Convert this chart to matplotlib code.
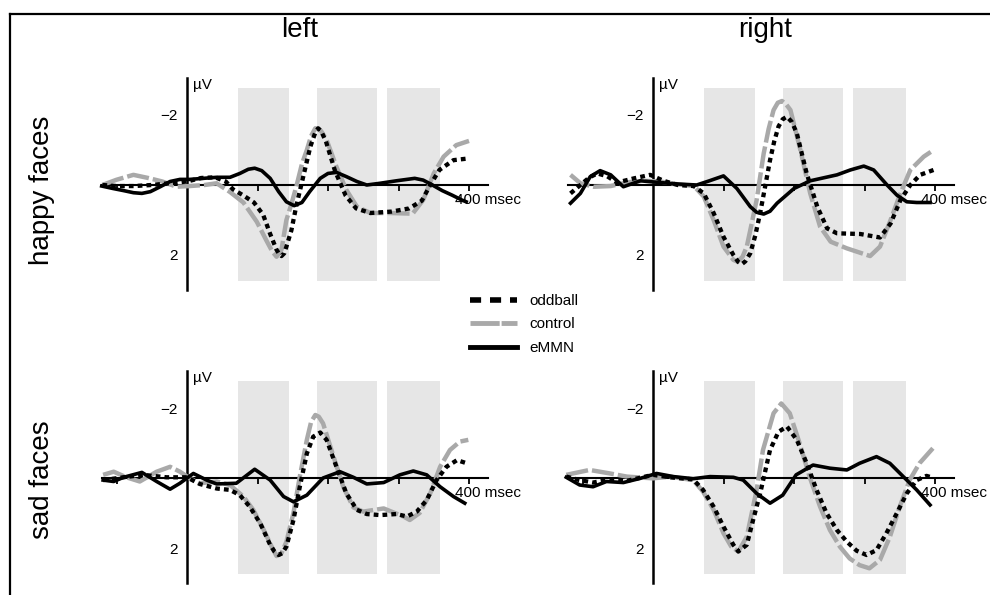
import matplotlib
matplotlib.use("Agg")
import matplotlib.pyplot as plt
from matplotlib.lines import Line2D

plt.rcParams['font.family'] = ['Liberation Sans', 'DejaVu Sans']

# ---- data (ms, microvolts; negative is drawn upward) ----
col_titles = ["left", "right"]
row_titles = ["happy faces", "sad faces"]
bands = [(72, 145), (184, 270), (284, 359)]
x_ticks = [-100, 100, 200, 300, 400]
y_ticks = [-2, 2]
y_ticklabels = ["\u22122", "2"]

# happy faces, left
hl_odd_t = [-120, -100, -75, -50, -25, 0, 20, 40, 55, 65, 80, 95, 108, 118, 127, 131, 134, 138, 141, 148, 155, 165, 175, 182, 186, 190, 197, 210, 225, 240, 260, 290, 315, 333, 345, 358, 378, 400]
hl_odd_v = [0.0, 0.03, 0.03, 0.0, -0.05, -0.1, -0.2, -0.22, -0.1, 0.12, 0.3, 0.5, 0.85, 1.4, 1.85, 1.98, 2.03, 1.95, 1.76, 1.3, 0.6, -0.25, -1.1, -1.5, -1.62, -1.55, -1.25, -0.4, 0.3, 0.67, 0.8, 0.76, 0.67, 0.45, 0.0, -0.43, -0.71, -0.76]
hl_ctl_t = [-120, -100, -76, -55, -35, -15, 4, 25, 42, 61, 80, 99, 113, 121, 127, 134, 141, 148, 155, 163, 170, 176, 182, 190, 198, 212, 226, 241, 260, 288, 320, 335, 350, 364, 382, 400]
hl_ctl_v = [0.0, -0.15, -0.29, -0.2, -0.1, 0.05, 0.03, 0.0, -0.05, 0.2, 0.5, 1.05, 1.6, 1.9, 2.05, 1.85, 1.0, 0.55, 0.05, -0.6, -1.0, -1.4, -1.62, -1.55, -1.29, -0.52, 0.14, 0.62, 0.8, 0.8, 0.82, 0.43, -0.33, -0.81, -1.14, -1.26]
hl_mmn_t = [-121, -105, -90, -76, -64, -52, -38, -24, -10, 4, 23, 42, 61, 75, 87, 96, 106, 118, 130, 141, 152, 163, 174, 189, 200, 212, 226, 241, 255, 274, 297, 323, 335, 348, 362, 376, 390, 396]
hl_mmn_v = [0.03, 0.1, 0.16, 0.22, 0.24, 0.19, 0.05, -0.1, -0.16, -0.16, -0.19, -0.22, -0.22, -0.33, -0.45, -0.48, -0.41, -0.19, 0.19, 0.48, 0.59, 0.5, 0.19, -0.19, -0.33, -0.36, -0.24, -0.1, 0.0, -0.05, -0.12, -0.19, -0.14, 0.0, 0.16, 0.29, 0.43, 0.48]

# happy faces, right
hr_odd_t = [-117, -103, -90, -79, -65, -51, -27, -4, 15, 35, 58, 72, 86, 100, 114, 121, 126, 131, 138, 145, 152, 159, 166, 172, 178, 184, 190, 197, 204, 218, 233, 247, 261, 294, 322, 337, 351, 365, 379, 398]
hr_odd_v = [0.24, 0.0, -0.22, -0.33, -0.25, -0.07, -0.19, -0.29, -0.12, 0.0, 0.03, 0.24, 0.8, 1.48, 2.0, 2.2, 2.26, 2.18, 1.95, 1.45, 0.8, 0.05, -0.71, -1.25, -1.67, -1.88, -1.95, -1.8, -1.48, -0.33, 0.62, 1.24, 1.38, 1.4, 1.5, 1.1, 0.43, 0.0, -0.29, -0.43]
hr_ctl_t = [-117, -103, -84, -60, -35, -13, 10, 35, 58, 72, 86, 100, 114, 120, 127, 133, 140, 147, 157, 164, 171, 177, 183, 189, 195, 209, 223, 237, 252, 275, 308, 322, 337, 351, 365, 384, 398]
hr_ctl_v = [-0.29, -0.05, 0.05, 0.03, -0.08, -0.12, -0.1, -0.02, 0.03, 0.33, 1.0, 1.76, 2.14, 2.19, 2.05, 1.76, 1.1, 0.43, -0.9, -1.6, -2.14, -2.35, -2.4, -2.3, -2.14, -1.0, 0.24, 1.19, 1.62, 1.81, 2.03, 1.76, 1.0, 0.24, -0.43, -0.81, -1.0]
hr_mmn_t = [-117, -103, -89, -75, -60, -42, -18, 10, 34, 62, 80, 100, 119, 138, 147, 157, 166, 176, 200, 223, 261, 280, 299, 313, 332, 346, 360, 374, 393]
hr_mmn_v = [0.52, 0.24, -0.24, -0.41, -0.29, 0.05, -0.12, -0.07, -0.03, 0.0, -0.12, -0.26, 0.1, 0.62, 0.78, 0.83, 0.75, 0.52, 0.1, -0.12, -0.29, -0.43, -0.54, -0.43, 0.0, 0.29, 0.48, 0.5, 0.5]

# sad faces, left
sl_odd_t = [-119, -90, -62, -29, 0, 18, 42, 61, 75, 89, 104, 118, 124, 130, 135, 141, 151, 160, 170, 179, 189, 198, 212, 226, 241, 255, 274, 297, 312, 326, 340, 354, 368, 383, 397]
sl_odd_v = [0.06, -0.02, -0.09, -0.02, -0.02, 0.17, 0.3, 0.34, 0.49, 0.82, 1.3, 1.91, 2.1, 2.2, 2.15, 1.96, 1.2, 0.25, -0.7, -1.18, -1.3, -1.09, -0.32, 0.44, 0.91, 1.03, 1.06, 1.03, 1.1, 0.96, 0.63, 0.06, -0.32, -0.51, -0.42]
sl_ctl_t = [-119, -104, -86, -67, -43, -24, -10, 4, 18, 42, 61, 80, 94, 109, 121, 127, 134, 141, 151, 160, 170, 176, 182, 187, 193, 208, 222, 236, 250, 279, 307, 316, 330, 345, 359, 373, 387, 399]
sl_ctl_v = [-0.09, -0.18, -0.02, 0.1, -0.18, -0.32, -0.18, 0.01, 0.15, 0.1, 0.2, 0.53, 0.91, 1.49, 2.0, 2.23, 2.15, 1.82, 1.0, -0.04, -1.09, -1.6, -1.8, -1.75, -1.56, -0.6, 0.27, 0.84, 0.96, 0.87, 1.1, 1.2, 1.0, 0.44, -0.32, -0.8, -1.04, -1.09]
sl_mmn_t = [-119, -104, -90, -64, -43, -24, -10, 9, 28, 42, 70, 96, 118, 137, 151, 170, 193, 217, 236, 255, 279, 302, 321, 340, 359, 378, 394]
sl_mmn_v = [0.06, 0.1, -0.02, -0.16, 0.1, 0.32, 0.15, -0.13, 0.06, 0.17, 0.15, -0.25, 0.06, 0.53, 0.68, 0.49, 0.0, -0.18, -0.02, 0.17, 0.13, -0.09, -0.2, -0.09, 0.25, 0.53, 0.72]

# sad faces, right
sr_odd_t = [-123, -104, -85, -61, -37, 0, 24, 57, 71, 86, 100, 114, 121, 133, 142, 152, 166, 178, 190, 204, 218, 232, 246, 261, 275, 289, 303, 317, 331, 346, 360, 374, 388, 395]
sr_odd_v = [-0.04, 0.06, 0.13, 0.04, 0.08, -0.09, -0.02, 0.04, 0.34, 0.82, 1.39, 1.91, 2.1, 1.91, 1.2, 0.44, -0.8, -1.32, -1.47, -1.09, -0.42, 0.34, 1.0, 1.49, 1.82, 2.08, 2.2, 2.06, 1.58, 1.0, 0.44, 0.06, -0.06, -0.02]
sr_ctl_t = [-123, -90, -61, -37, 0, 24, 57, 71, 86, 100, 111, 121, 133, 147, 156, 171, 182, 194, 208, 222, 237, 251, 265, 279, 293, 307, 322, 336, 350, 364, 378, 397]
sr_ctl_v = [-0.09, -0.23, -0.13, -0.04, 0.01, -0.04, 0.06, 0.39, 0.91, 1.58, 1.96, 2.1, 1.68, 0.34, -0.8, -1.85, -2.13, -1.85, -0.99, -0.04, 0.82, 1.49, 1.96, 2.3, 2.49, 2.58, 2.34, 1.68, 0.82, 0.06, -0.42, -0.85]
sr_mmn_t = [-123, -104, -85, -66, -42, -18, 5, 29, 57, 81, 114, 128, 147, 166, 184, 203, 227, 251, 275, 293, 317, 336, 355, 374, 393]
sr_mmn_v = [-0.02, 0.2, 0.25, 0.1, 0.13, 0.01, -0.13, -0.04, 0.02, -0.04, -0.02, 0.06, 0.44, 0.72, 0.49, -0.09, -0.37, -0.28, -0.23, -0.42, -0.61, -0.42, -0.04, 0.34, 0.77]

panels = [
    (0, 0, hl_odd_t, hl_odd_v, hl_ctl_t, hl_ctl_v, hl_mmn_t, hl_mmn_v),
    (0, 1, hr_odd_t, hr_odd_v, hr_ctl_t, hr_ctl_v, hr_mmn_t, hr_mmn_v),
    (1, 0, sl_odd_t, sl_odd_v, sl_ctl_t, sl_ctl_v, sl_mmn_t, sl_mmn_v),
    (1, 1, sr_odd_t, sr_odd_v, sr_ctl_t, sr_ctl_v, sr_mmn_t, sr_mmn_v),
]

W, H = 990, 595
fig = plt.figure(figsize=(W / 100, H / 100), dpi=100)

# pixel origin (0 ms, 0 uV) of every panel
origins_x = [187, 653]
origins_y = [185, 478]
px_ms = 0.705
px_uv = 35.0
xlim = (-130, 440)
ylim = (-3.2, 3.2)

grey = "#a9a9a9"
band_col = "#e6e6e6"

for r, c, ot, ov, ct, cv, mt, mv in panels:
    ox, oy = origins_x[c], origins_y[r]
    left = ox + xlim[0] * px_ms
    width = (xlim[1] - xlim[0]) * px_ms
    top = oy + ylim[0] * px_uv
    height = (ylim[1] - ylim[0]) * px_uv
    ax = fig.add_axes([left / W, 1 - (top + height) / H, width / W, height / H])
    ax.set_xlim(*xlim)
    ax.set_ylim(ylim[1], ylim[0])
    ax.patch.set_alpha(0)

    for b0, b1 in bands:
        ax.fill_between([b0, b1], -2.78, 2.75, color=band_col, lw=0, zorder=0)

    ax.plot(ct, cv, color=grey, lw=3.2, dashes=(5, 0.9), dash_capstyle='butt', zorder=3)
    ax.plot(ot, ov, color='black', lw=3.1, dashes=(1.1, 0.95), dash_capstyle='butt', zorder=4)
    ax.plot(mt, mv, color='black', lw=2.6, zorder=5)

    for s in ['top', 'right']:
        ax.spines[s].set_visible(False)
    ax.spines['left'].set_position(('data', 0))
    ax.spines['bottom'].set_position(('data', 0))
    ax.spines['left'].set_bounds(-3.05, 3.0)
    ax.spines['bottom'].set_bounds(-120, 427)
    ax.spines['left'].set_linewidth(1.8)
    ax.spines['bottom'].set_linewidth(1.5)
    ax.spines['left'].set_zorder(2)
    ax.spines['bottom'].set_zorder(2)

    ax.set_xticks(x_ticks)
    ax.set_xticklabels([])
    ax.tick_params(axis='x', direction='out', length=4, width=1.3)
    ax.set_yticks(y_ticks)
    ax.set_yticklabels(y_ticklabels, fontsize=11)
    ax.tick_params(axis='y', length=0, pad=7)

    ax.annotate("\u00b5V", xy=(0, -3.05), xytext=(4, 0), textcoords='offset points',
                ha='left', va='top', fontsize=11)
    ax.annotate("400 msec", xy=(400, 0), xytext=(-10, -11), textcoords='offset points',
                ha='left', va='center', fontsize=11)

for i, t in enumerate(col_titles):
    fig.text([300, 765][i] / W, 1 - 30 / H, t, ha='center', va='center', fontsize=20)
for i, t in enumerate(row_titles):
    fig.text(42 / W, 1 - [190, 480][i] / H, t, ha='center', va='center', fontsize=20, rotation=90)

handles = [
    Line2D([], [], color='black', lw=4, dashes=(2, 1.6), dash_capstyle='butt'),
    Line2D([], [], color=grey, lw=3.5, dashes=(6, 0.4), dash_capstyle='butt'),
    Line2D([], [], color='black', lw=3.5),
]
fig.legend(handles, ["oddball", "control", "eMMN"], loc='upper left',
           bbox_to_anchor=(470 / W, 1 - 294 / H), frameon=False, fontsize=11,
           handlelength=3.1, handletextpad=0.8, labelspacing=0.62,
           borderpad=0, borderaxespad=0)

# outer frame, left and top edges only
fig.add_artist(Line2D([10 / W, 10 / W], [0, 1 - 14 / H], color='black', lw=1.6))
fig.add_artist(Line2D([10 / W, 1], [1 - 14 / H, 1 - 14 / H], color='black', lw=1.6))

fig.savefig("out.png", dpi=100)
